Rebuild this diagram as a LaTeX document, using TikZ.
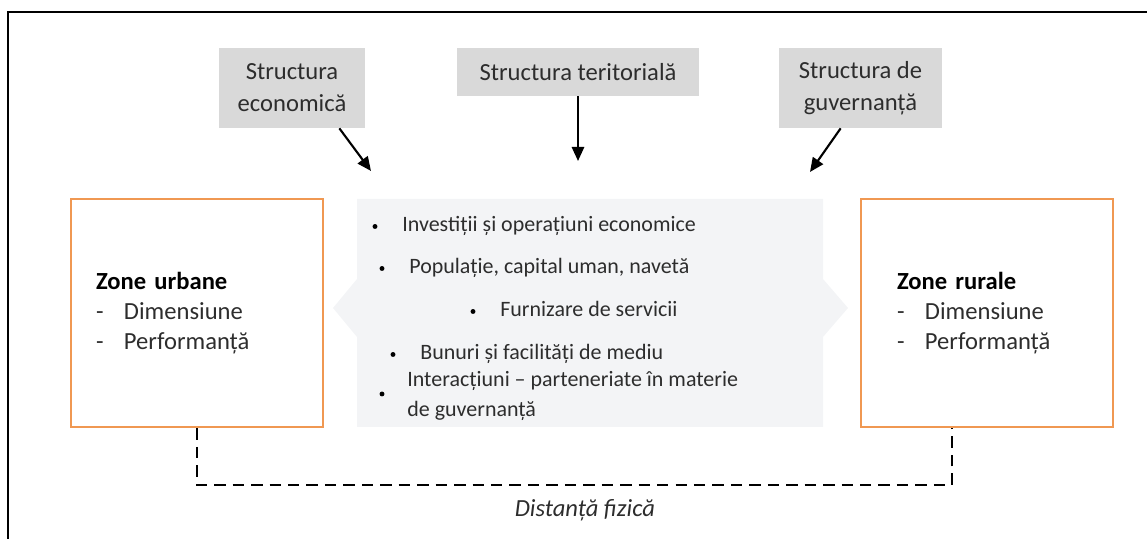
\documentclass[tikz,border=0pt]{standalone}
\usepackage{fontspec}
\setmainfont{Carlito}
\usetikzlibrary{positioning, arrows.meta}
\definecolor{StructGray}{RGB}{217, 217, 217}
\definecolor{LinkGray}{RGB}{243, 244, 246}
\definecolor{ZoneOrange}{RGB}{240, 152, 82}
\definecolor{TextGray}{RGB}{45, 45, 45}

\begin{document}
\begin{tikzpicture}[
    structbox/.style={fill=StructGray, text=TextGray, align=center, inner sep=0pt, font=\fontsize{14}{18.2}\selectfont},
    zonebox/.style={draw=ZoneOrange, line width=1.6pt, minimum width=5.04cm, minimum height=4.56cm, align=left, text=TextGray, font=\fontsize{14}{17}\selectfont},
    itemtext/.style={anchor=base west, text=TextGray, inner sep=0pt, align=left, font=\fontsize{12.5}{17}\selectfont},
    itemdot/.style={circle, fill=black, inner sep=0pt, minimum size=2.8pt},
    flow/.style={line width=1.2pt, -{Triangle[length=8pt, width=7pt]}},
    gapline/.style={line width=1.4pt, dash pattern=on 6.5pt off 4pt}
  ]
    \useasboundingbox (0,0) rectangle (22.94,10.78);

    % Frame, cut by the page at right and bottom
    \draw[line width=1.6pt] (0.16,0) -- (0.16,10.54) -- (22.94,10.54);

    % Link area between the two zones
    \fill[LinkGray] (7.14,6.8) -- (16.46,6.8) -- (16.46,5.2) -- (16.96,4.62) -- (16.46,4.04)
      -- (16.46,2.24) -- (7.14,2.24) -- (7.14,4.04) -- (6.66,4.62) -- (7.14,5.2) -- cycle;

    % Structures
    \node[structbox, minimum width=2.92cm, minimum height=1.6cm] (econ) at (5.84,9.02) {Structura\\economică};
    \node[structbox, minimum width=4.84cm, minimum height=0.96cm] (teri) at (11.56,9.34) {Structura teritorială};
    \node[structbox, minimum width=3.26cm, minimum height=1.6cm] (guv) at (17.21,9.02) {Structura de\\guvernanță};

    \coordinate (econend) at (7.42,7.36);
    \coordinate (teriend) at (11.56,7.56);
    \coordinate (guvend) at (16.2,7.34);
    \draw[flow] ([xshift=-0.52cm]econ.south east) -- (econend);
    \draw[flow] (teri) -- (teriend);
    \draw[flow] ([xshift=1.24cm]guv.south west) -- (guvend);

    % Zones
    \node[zonebox, text width=4.04cm] (urban) at (3.94,4.52)
      {\textbf{\color{black}Zone urbane}\\\makebox[0.56cm][l]{-}Dimensiune\\\makebox[0.56cm][l]{-}Performanță};
    \node[zonebox, text width=3.6cm] (rural) at (19.74,4.52)
      {\textbf{\color{black}Zone rurale}\\\makebox[0.56cm][l]{-}Dimensiune\\\makebox[0.56cm][l]{-}Performanță};

    % Interactions
    \node[itemdot] (b1) at (7.5,6.25) {};
    \node[itemdot] (b2) at (7.64,5.41) {};
    \node[itemdot] (b3) at (9.46,4.55) {};
    \node[itemdot] (b4) at (7.86,3.69) {};
    \node[itemdot] (b5) at (7.64,2.9) {};
    \node[itemtext] (t1) at (8.04,6.15) {Investiții și operațiuni economice};
    \node[itemtext] (t2) at (8.18,5.31) {Populație, capital uman, navetă};
    \node[itemtext] (t3) at (10.0,4.45) {Furnizare de servicii};
    \node[itemtext] (t4) at (8.40,3.59) {Bunuri și facilități de mediu};
    \node[itemtext] (t5) at (8.14,2.45) {Interacțiuni -- parteneriate în materie\\de guvernanță};

    % Physical distance
    \coordinate (gap) at (11.7,1.08);
    \draw[gapline] (urban.south) |- (gap) -| ([xshift=-0.7cm]rural.south);
    \node[text=TextGray, font=\fontsize{14}{17}\selectfont\itshape] (dist) at (11.7,0.58) {Distanță fizică};
  \end{tikzpicture}
\end{document}
